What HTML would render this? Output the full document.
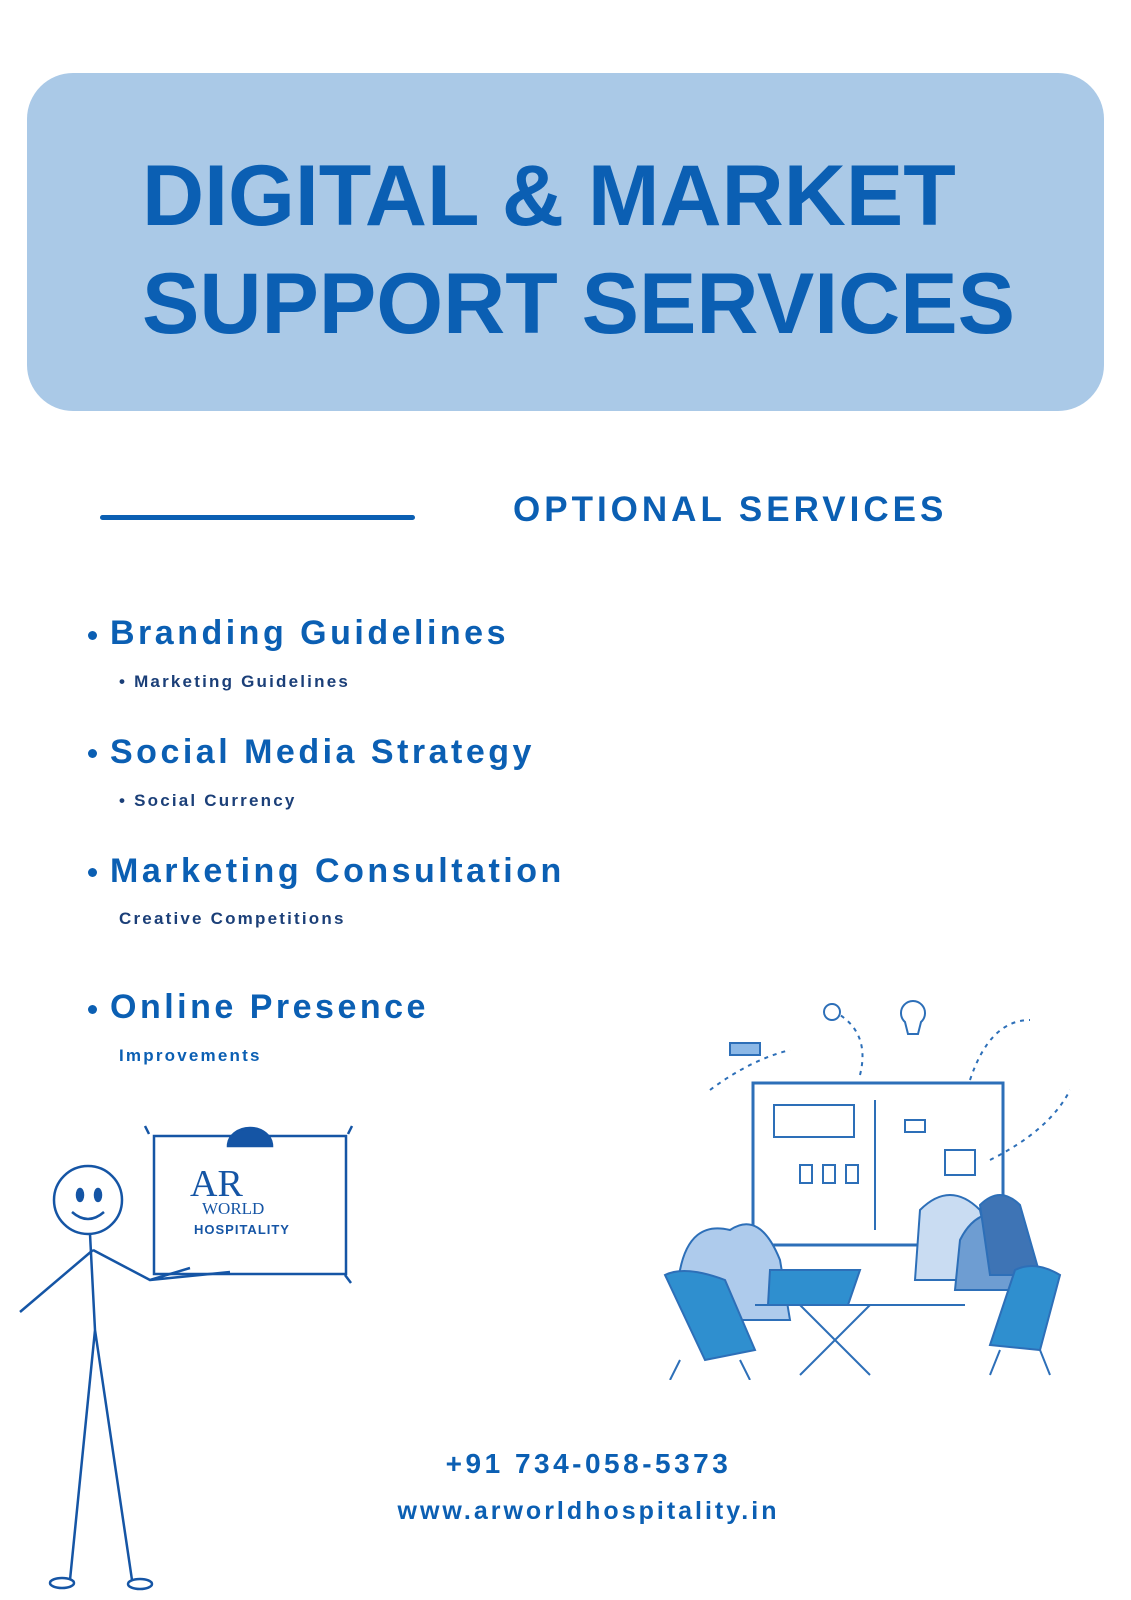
<!DOCTYPE html>
<html><head><meta charset="utf-8"><style>
html,body{margin:0;padding:0;background:#fff}
body{width:1131px;height:1600px;position:relative;overflow:hidden;font-family:"Liberation Sans",sans-serif}
.banner{position:absolute;left:27px;top:73px;width:1077px;height:338px;background:#aac9e7;border-radius:46px}
.t{position:absolute;left:142px;color:#0b5fb3;font-weight:bold;font-size:86px;line-height:1;white-space:nowrap;letter-spacing:0px}
.abs{position:absolute;white-space:nowrap}
.h{color:#0b5fb3;font-weight:bold;font-size:34px;left:110px;letter-spacing:3.5px}
.s{color:#1b3f78;font-weight:bold;font-size:17px;left:119px;letter-spacing:2.2px}
.dot{position:absolute;left:88px;width:9px;height:9px;border-radius:50%;background:#0b5fb3}
</style></head><body>
<div class="banner"></div>
<div class="t" style="top:153px">DIGITAL &amp; MARKET</div>
<div class="t" style="top:261px">SUPPORT SERVICES</div>
<div class="abs" style="left:100px;top:515px;width:315px;height:5px;background:#0b5fb3;border-radius:3px"></div>
<div class="abs" style="left:513px;top:490px;color:#0b5fb3;font-weight:bold;font-size:35px;letter-spacing:4px">OPTIONAL SERVICES</div>

<div class="dot" style="top:631px"></div>
<div class="abs h" style="top:614px">Branding Guidelines</div>
<div class="abs s" style="top:672px">• Marketing Guidelines</div>
<div class="dot" style="top:749px"></div>
<div class="abs h" style="top:733px">Social Media Strategy</div>
<div class="abs s" style="top:791px">• Social Currency</div>
<div class="dot" style="top:868px"></div>
<div class="abs h" style="top:852px">Marketing Consultation</div>
<div class="abs s" style="top:909px">Creative Competitions</div>
<div class="dot" style="top:1005px"></div>
<div class="abs h" style="top:988px">Online Presence</div>
<div class="abs s" style="top:1046px;color:#0b5fb3">Improvements</div>

<div class="abs" style="left:0;width:1131px;text-align:center;top:1448px;padding-left:46px;box-sizing:border-box;color:#0b5fb3;font-weight:bold;font-size:28px;letter-spacing:3.5px">+91 734-058-5373</div>
<div class="abs" style="left:0;width:1131px;text-align:center;top:1497px;padding-left:46px;box-sizing:border-box;color:#0b5fb3;font-weight:bold;font-size:25px;letter-spacing:3px">www.arworldhospitality.in</div>

<svg class="abs" style="left:0;top:1120px" width="380" height="480" viewBox="0 0 380 480" fill="none" stroke="#1555a5" stroke-width="2.5">
<rect x="154" y="16" width="192" height="138"/>
<path d="M145 6 l4 8 M352 6 l-4 8 M345 155 l6 8"/>
<circle cx="88" cy="80" r="34"/>
<ellipse cx="80" cy="75" rx="3" ry="6" fill="#1555a5"/><ellipse cx="98" cy="75" rx="3" ry="6" fill="#1555a5"/>
<path d="M72 92 q16 14 32 0"/>
<path d="M90 114 L95 210 L70 460 M95 210 L132 460"/>
<path d="M93 130 L20 192 M93 130 L150 160 L190 148 M150 160 L230 152"/>
<ellipse cx="62" cy="463" rx="12" ry="5"/><ellipse cx="140" cy="464" rx="12" ry="5"/>
<path d="M228 26 a22 18 0 0 1 44 0 z" fill="#1555a5"/>
<text x="190" y="76" font-family="Liberation Serif,serif" font-size="38" fill="#1555a5" stroke="none">AR</text>
<text x="202" y="94" font-family="Liberation Serif,serif" font-size="17" fill="#1555a5" stroke="none">WORLD</text>
<text x="194" y="114" font-family="Liberation Sans,sans-serif" font-weight="bold" font-size="13" letter-spacing="1" fill="#1555a5" stroke="none">HOSPITALITY</text>
</svg>

<svg class="abs" style="left:660px;top:980px" width="420" height="400" viewBox="0 0 420 400" fill="none" stroke="#2d6fb8" stroke-width="2">
<rect x="93" y="103" width="250" height="162" stroke-width="3"/>
<path d="M215 120 v130"/>
<rect x="114" y="125" width="80" height="32"/>
<path d="M50 110 q40 -30 80 -40 M200 95 q10 -40 -20 -60 M310 100 q20 -60 60 -60 M330 180 q60 -30 80 -70" stroke-dasharray="4 5"/>
<rect x="70" y="63" width="30" height="12" fill="#8cb8e6"/>
<circle cx="172" cy="32" r="8"/><path d="M245 42 a12 12 0 1 1 16 0 l-3 12 h-10 z"/>
<rect x="140" y="185" width="12" height="18"/><rect x="163" y="185" width="12" height="18"/><rect x="186" y="185" width="12" height="18"/>
<rect x="245" y="140" width="20" height="12"/><rect x="285" y="170" width="30" height="25"/>
<path d="M20 290 q10 -50 50 -40 q30 -20 50 30 l10 60 h-100 z" fill="#aecbec"/>
<path d="M260 230 q30 -30 60 0 l15 70 h-80 z" fill="#c9dcf2"/>
<path d="M300 260 q20 -40 60 -20 l15 70 h-80 z" fill="#6e9dd2"/>
<path d="M320 225 q20 -20 40 0 l20 70 h-50 z" fill="#3e74b5"/>
<path d="M110 290 h90 l-12 35 h-80 z" fill="#2f8fcf"/>
<path d="M95 325 h210 M140 325 l70 70 M210 325 l-70 70"/>
<path d="M5 295 q20 -10 60 5 l30 70 l-50 10 z" fill="#2f8fcf"/>
<path d="M20 380 l-10 20 M80 380 l10 20"/>
<path d="M355 290 q20 -10 45 5 l-20 75 l-50 -5 z" fill="#2f8fcf"/>
<path d="M340 370 l-10 25 M380 370 l10 25"/>
</svg>
</body></html>
